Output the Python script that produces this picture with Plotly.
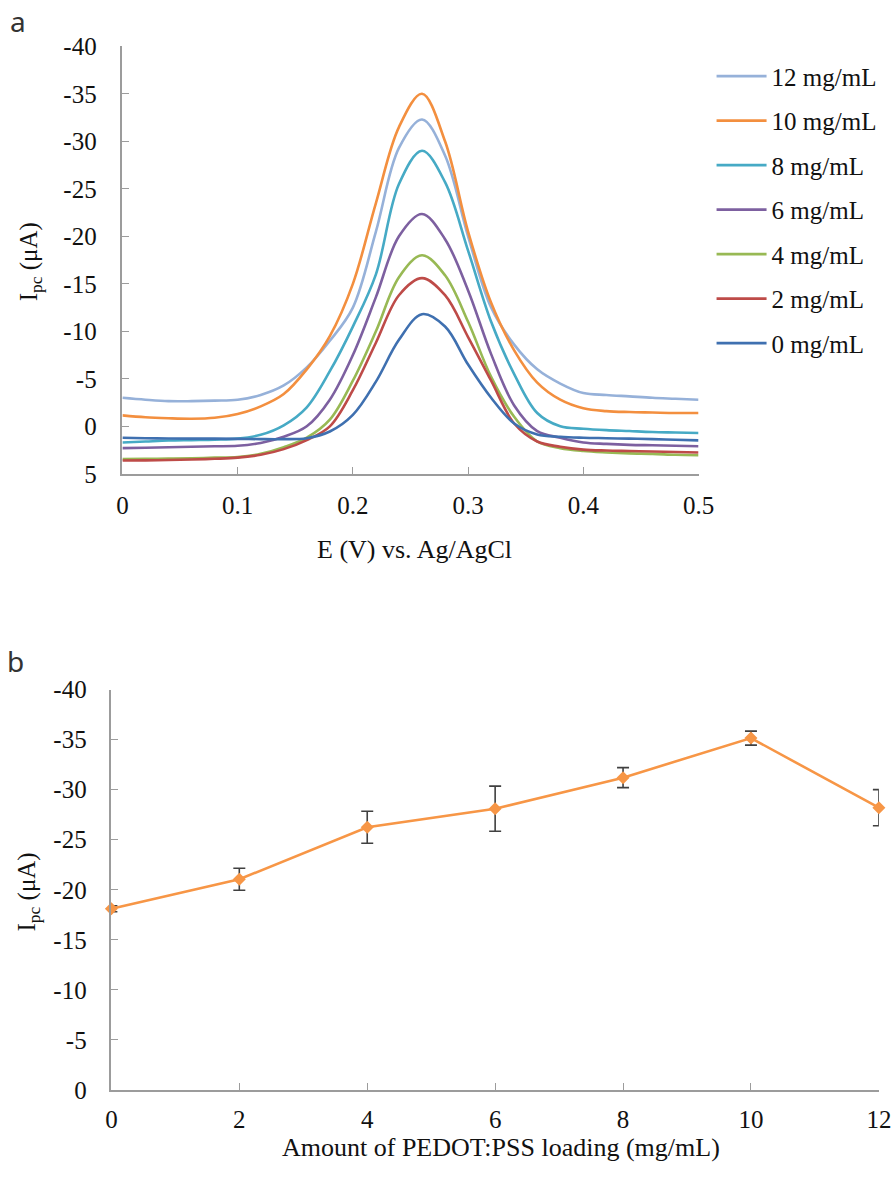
import plotly.graph_objects as go

# ---------- Panel a data ----------
potential = [0.00, 0.02, 0.04, 0.06, 0.08, 0.10, 0.12, 0.14, 0.16, 0.18, 0.20, 0.22, 0.24,
             0.26, 0.28, 0.30, 0.32, 0.34, 0.36, 0.38, 0.40, 0.42, 0.44, 0.46, 0.48, 0.50]

i_0mg = [1.2, 1.25, 1.28, 1.3, 1.3, 1.32, 1.35, 1.35, 1.25, 0.55, -1.2, -4.7, -9.1,
         -11.8, -10.5, -6.5, -3.0, -0.3, 0.85, 1.1, 1.2, 1.25, 1.3, 1.35, 1.42, 1.48]
i_2mg = [3.6, 3.58, 3.55, 3.5, 3.42, 3.3, 3.0, 2.4, 1.45, 0.0, -3.8, -8.8, -13.8,
         -15.6, -13.8, -9.4, -4.8, -0.3, 1.6, 2.15, 2.45, 2.55, 2.6, 2.65, 2.7, 2.75]
i_4mg = [3.45, 3.42, 3.4, 3.37, 3.3, 3.24, 2.9, 2.2, 1.2, -0.7, -4.8, -10.0, -15.7,
         -18.0, -15.9, -11.0, -5.2, -1.0, 1.6, 2.3, 2.6, 2.75, 2.85, 2.9, 3.0, 3.05]
i_6mg = [2.3, 2.25, 2.2, 2.15, 2.1, 2.05, 1.75, 1.1, 0.0, -2.8, -7.5, -13.6, -20.0,
         -22.35, -19.7, -14.3, -7.6, -2.2, 0.5, 1.2, 1.7, 1.85, 1.95, 2.0, 2.05, 2.1]
i_8mg = [1.7, 1.6, 1.5, 1.45, 1.4, 1.3, 0.9, -0.1, -2.0, -5.8, -10.5, -16.0, -25.5,
         -29.0, -25.7, -18.5, -11.0, -5.5, -1.4, 0.0, 0.25, 0.4, 0.5, 0.6, 0.65, 0.7]
i_10mg = [-1.15, -0.95, -0.85, -0.8, -0.9, -1.3, -2.1, -3.4, -6.0, -9.5, -15.0, -23.5, -31.5,
          -35.0, -30.0, -20.5, -13.0, -8.0, -4.6, -2.8, -1.9, -1.6, -1.5, -1.45, -1.4, -1.4]
i_12mg = [-3.0, -2.8, -2.65, -2.65, -2.7, -2.8, -3.3, -4.3, -6.2, -9.0, -12.5, -20.5, -29.3,
          -32.3, -28.5, -20.0, -12.5, -8.6, -6.0, -4.5, -3.5, -3.3, -3.15, -3.0, -2.9, -2.8]

# legend order top -> bottom
series_names = ["12 mg/mL", "10 mg/mL", "8 mg/mL", "6 mg/mL", "4 mg/mL", "2 mg/mL", "0 mg/mL"]
series_values = [i_12mg, i_10mg, i_8mg, i_6mg, i_4mg, i_2mg, i_0mg]
series_colors = ["#96B1D9", "#F38F3F", "#46AAC5", "#7D60A0", "#98B954", "#BE4B48", "#3F70B0"]

a_xticks = [0, 0.1, 0.2, 0.3, 0.4, 0.5]
a_xticklabels = ["0", "0.1", "0.2", "0.3", "0.4", "0.5"]
a_yticks = [-40, -35, -30, -25, -20, -15, -10, -5, 0, 5]
a_yticklabels = ["-40", "-35", "-30", "-25", "-20", "-15", "-10", "-5", "0", "5"]

# ---------- Panel b data ----------
loading = [0, 2, 4, 6, 8, 10, 12]
ipc_mean = [-18.1, -21.05, -26.25, -28.1, -31.2, -35.15, -28.2]
ipc_err = [0.3, 1.1, 1.6, 2.25, 1.0, 0.7, 1.8]

b_xticks = [0, 2, 4, 6, 8, 10, 12]
b_xticklabels = ["0", "2", "4", "6", "8", "10", "12"]
b_yticks = [-40, -35, -30, -25, -20, -15, -10, -5, 0]
b_yticklabels = ["-40", "-35", "-30", "-25", "-20", "-15", "-10", "-5", "0"]

# The photographed page shows the figure slightly scaled and shifted;
# layout targets below are given in photographed pixels and mapped back.
VIEW_SCALE = 0.974
VIEW_OX, VIEW_OY = 5.8, 13.8
W, H = 912, 1196
SERIF = "Liberation Serif, Times New Roman, serif"
AXIS_GREY = "#9C9C9C"
TXT = "#111111"

def px_x(t):
    return ((t - VIEW_OX) / VIEW_SCALE) / W

def px_y(t):
    return 1 - ((t - VIEW_OY) / VIEW_SCALE) / H

fig = go.Figure()

for name, vals, col in zip(series_names, series_values, series_colors):
    fig.add_trace(go.Scatter(
        x=potential, y=vals, mode="lines", name=name, legendgroup=name,
        line=dict(color=col, width=2.6, shape="spline", smoothing=1.0),
        xaxis="x", yaxis="y", showlegend=True,
    ))

fig.add_trace(go.Scatter(
    x=loading, y=ipc_mean, mode="lines+markers", showlegend=False,
    line=dict(color="#F79646", width=2.6),
    marker=dict(symbol="diamond", size=10, color="#F79646"),
    error_y=dict(type="data", array=ipc_err, visible=True, color="#404040",
                 thickness=1.6, width=6),
    cliponaxis=False,
    xaxis="x2", yaxis="y2",
))

axis_common = dict(
    showgrid=False, zeroline=False, showline=True, linecolor=AXIS_GREY, linewidth=1.5,
    ticks="inside", ticklen=7, tickwidth=1.3, tickcolor=AXIS_GREY,
    tickfont=dict(family=SERIF, size=25, color=TXT),
    mirror=False, fixedrange=True,
)

def label(text, x, y, size, angle=0, family=SERIF, color=TXT):
    return dict(text=text, x=px_x(x), y=px_y(y), xref="paper", yref="paper",
                xanchor="center", yanchor="middle", showarrow=False, textangle=angle,
                font=dict(family=family, size=size, color=color))

fig.update_layout(
    width=W, height=H,
    margin=dict(l=0, r=0, t=0, b=0),
    paper_bgcolor="white", plot_bgcolor="white",
    xaxis=dict(domain=[px_x(122), px_x(697)], range=[0, 0.5], anchor="y",
               tickvals=a_xticks, ticktext=a_xticklabels, ticklabelstandoff=8,
               **axis_common),
    yaxis=dict(domain=[px_y(473), px_y(47)], range=[5, -40], anchor="x",
               tickvals=a_yticks, ticktext=a_yticklabels, ticklabelstandoff=19,
               **axis_common),
    xaxis2=dict(domain=[px_x(111), px_x(877)], range=[0, 12], anchor="y2",
                tickvals=b_xticks, ticktext=b_xticklabels, ticklabelstandoff=6,
                **axis_common),
    yaxis2=dict(domain=[px_y(1087), px_y(688)], range=[0, -40], anchor="x2",
                tickvals=b_yticks, ticktext=b_yticklabels, ticklabelstandoff=18,
                **axis_common),
    legend=dict(
        x=px_x(710), y=px_y(54), xanchor="left", yanchor="top",
        traceorder="grouped", bgcolor="rgba(0,0,0,0)",
        font=dict(family=SERIF, size=25, color=TXT),
        itemwidth=50, tracegroupgap=9,
    ),
    annotations=[
        label("E (V) vs. Ag/AgCl", 414, 548, 26),
        label("Amount of PEDOT:PSS loading (mg/mL)", 500, 1144, 26),
        label("I<sub>pc</sub> (μA)", 30, 262, 25, angle=-90),
        label("I<sub>pc</sub> (μA)", 28, 890, 25, angle=-90),
        label("a", 18, 22, 28, family="Noto Sans, sans-serif", color="#333333"),
        label("b", 15, 660, 28, family="Noto Sans, sans-serif", color="#333333"),
    ],
)

fig.write_html("out.html")
